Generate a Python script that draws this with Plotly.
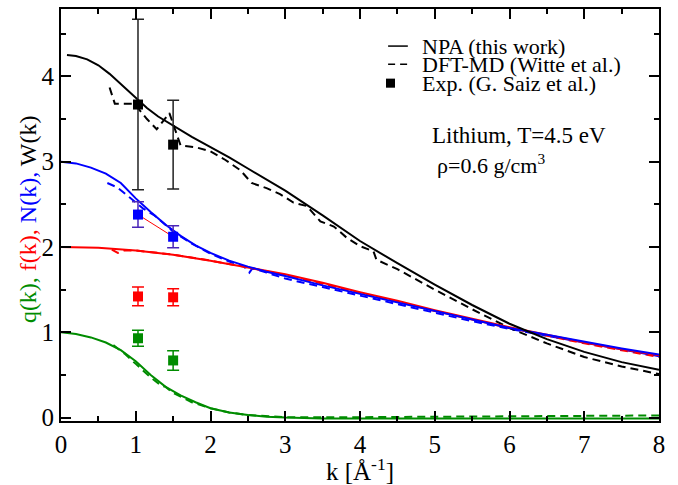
import plotly.graph_objects as go

# ---------------- data ----------------
# NPA (this work) curves
k_q_npa = [0, 0.2, 0.4, 0.6, 0.8, 1.0, 1.2, 1.4, 1.6, 1.8, 2.0, 2.25, 2.5, 2.75, 3.0,
           3.5, 4.0, 5.0, 6.0, 7.0, 8.0]
q_npa = [1.0, 0.98, 0.94, 0.88, 0.79, 0.66, 0.50, 0.36, 0.26, 0.18, 0.11, 0.06, 0.03, 0.01,
         0.0, -0.01, -0.01, -0.01, -0.01, -0.01, -0.01]
k_f_npa = [0, 0.5, 1.0, 1.5, 2.0, 2.5, 3.0, 3.5, 4.0, 4.5, 5.0, 5.5, 6.0, 6.5, 7.0, 7.5, 8.0]
f_npa = [2.0, 1.99, 1.96, 1.91, 1.84, 1.76, 1.68, 1.58, 1.47, 1.37, 1.26, 1.16, 1.06, 0.97,
         0.88, 0.80, 0.73]
k_N_npa = [0, 0.2, 0.4, 0.6, 0.8, 1.0, 1.2, 1.4, 1.6, 1.8, 2.0, 2.25, 2.5, 2.75, 3.0,
           3.5, 4.0, 4.5, 5.0, 5.5, 6.0, 6.5, 7.0, 7.5, 8.0]
N_npa = [3.0, 2.98, 2.93, 2.86, 2.75, 2.57, 2.41, 2.26, 2.13, 2.02, 1.93, 1.84, 1.77, 1.71,
         1.66, 1.55, 1.45, 1.35, 1.25, 1.15, 1.05, 0.97, 0.89, 0.81, 0.74]
k_W_npa = [0.08, 0.2, 0.35, 0.5, 0.65, 0.8, 0.9, 1.0, 1.15, 1.3, 1.5, 1.75, 2.0, 2.25, 2.5,
           2.75, 3.0, 3.5, 4.0, 4.5, 5.0, 5.5, 6.0, 6.5, 7.0, 7.5, 8.0]
W_npa = [4.25, 4.24, 4.20, 4.13, 4.03, 3.91, 3.83, 3.75, 3.63, 3.53, 3.42, 3.29, 3.17, 3.05,
         2.92, 2.79, 2.66, 2.37, 2.07, 1.81, 1.56, 1.32, 1.10, 0.92, 0.77, 0.65, 0.56]

# DFT-MD (Witte et al.) curves
k_q_dft = [0.7, 0.85, 1.0, 1.2, 1.35, 1.4, 1.5, 1.75, 2.0, 2.25, 2.5, 3.0, 4.0, 5.0, 6.0, 7.0, 8.0]
q_dft = [0.85, 0.75, 0.63, 0.47, 0.37, 0.36, 0.29, 0.18, 0.11, 0.06, 0.03, 0.005, 0.005,
         0.01, 0.015, 0.02, 0.025]
k_f_dft = [0.68, 0.76, 0.85, 1.0, 1.5, 2.0, 2.5, 3.0, 3.5, 4.0, 4.5, 5.0, 5.5, 6.0, 6.5, 7.0, 7.5, 8.0]
f_dft = [1.97, 1.93, 1.96, 1.96, 1.91, 1.84, 1.76, 1.67, 1.57, 1.46, 1.36, 1.25, 1.15, 1.05,
         0.96, 0.87, 0.79, 0.71]
k_N_dft = [0.62, 0.75, 0.92, 1.1, 1.25, 1.5, 1.75, 2.0, 2.25, 2.45, 2.52, 2.56, 2.75, 3.0,
           3.5, 4.0, 4.5, 5.0, 5.5, 6.0, 6.5, 7.0, 7.5, 8.0]
N_dft = [2.75, 2.70, 2.58, 2.45, 2.37, 2.18, 2.04, 1.92, 1.83, 1.77, 1.70, 1.75, 1.70, 1.63,
         1.53, 1.43, 1.33, 1.23, 1.13, 1.04, 0.96, 0.88, 0.80, 0.72]
k_W_dft = [0.65, 0.72, 0.98, 1.15, 1.28, 1.45, 1.6, 1.8, 2.0, 2.2, 2.4, 2.55, 2.75, 2.93,
           3.11, 3.29, 3.47, 3.65, 3.82, 4.0, 4.18, 4.22, 4.5, 5.0, 5.5, 6.0, 6.5, 7.0,
           7.5, 8.0]
W_dft = [3.87, 3.68, 3.68, 3.50, 3.38, 3.57, 3.19, 3.17, 3.12, 3.02, 2.90, 2.75, 2.69, 2.62,
         2.52, 2.48, 2.30, 2.24, 2.11, 2.01, 1.95, 1.85, 1.74, 1.50, 1.27, 1.05, 0.87, 0.71,
         0.60, 0.51]

# Experiment (G. Saiz et al.)
k_exp = [1.03, 1.5]
q_exp = [0.93, 0.67]
q_err = [0.095, 0.115]
f_exp = [1.42, 1.41]
f_err = [0.11, 0.10]
N_exp = [2.38, 2.12]
N_err = [0.15, 0.13]
W_exp = [3.67, 3.20]
W_err = [1.0, 0.52]

legend_labels = ["NPA (this work)", "DFT-MD (Witte et al.)", "Exp. (G. Saiz et al.)"]
x_ticks = [0, 1, 2, 3, 4, 5, 6, 7, 8]
y_ticks = [0, 1, 2, 3, 4]

# ---------------- style ----------------
GREEN = "#008c00"
RED = "#ff0000"
BLUE = "#0000ff"
BLACK = "#000000"
FONT = "Liberation Serif"
DASH = "8px,5px"

fig = go.Figure()

def line(x, y, color, dash=None, width=2):
    fig.add_trace(go.Scatter(x=x, y=y, mode="lines", showlegend=False,
                             line=dict(color=color, width=width, dash=dash or "solid")))

def exp(x, y, err, color, ecolor):
    fig.add_trace(go.Scatter(x=x, y=y, mode="markers", showlegend=False,
                             marker=dict(symbol="square", size=10, color=color),
                             error_y=dict(type="data", array=err, visible=True,
                                          color=ecolor, thickness=1.5, width=6)))

# DFT-MD dashed
line(k_q_dft, q_dft, GREEN, DASH)
line(k_f_dft, f_dft, RED, DASH)
line(k_N_dft, N_dft, BLUE, DASH)
line(k_W_dft, W_dft, BLACK, DASH)
# NPA solid
line(k_q_npa, q_npa, GREEN)
line(k_f_npa, f_npa, RED)
line(k_N_npa, N_npa, BLUE)
line(k_W_npa, W_npa, BLACK)
# thin red connector between N exp points
line(k_exp, N_exp, RED, width=1)
# experiment
exp(k_exp, q_exp, q_err, GREEN, GREEN)
exp(k_exp, f_exp, f_err, RED, RED)
exp(k_exp, N_exp, N_err, BLUE, "#4a25b8")
exp(k_exp, W_exp, W_err, BLACK, "#222222")

# ---------------- custom legend (paper coords) ----------------
ann = []
shapes = []
rows_y = [0.910, 0.866, 0.820]
for lab, yy in zip(legend_labels, rows_y):
    ann.append(dict(xref="paper", yref="paper", x=0.600, y=yy, xanchor="left",
                    yanchor="middle", showarrow=False, text=lab,
                    font=dict(family=FONT, size=22, color=BLACK)))
shapes.append(dict(type="line", xref="paper", yref="paper", x0=0.547, x1=0.580,
                   y0=rows_y[0], y1=rows_y[0], line=dict(color=BLACK, width=1.5)))
shapes.append(dict(type="line", xref="paper", yref="paper", x0=0.547, x1=0.580,
                   y0=rows_y[1], y1=rows_y[1], line=dict(color=BLACK, width=1.5, dash="7px,5px")))
shapes.append(dict(type="rect", xref="paper", yref="paper", x0=0.5435, x1=0.5585,
                   y0=rows_y[2] - 0.011, y1=rows_y[2] + 0.011, line=dict(width=0),
                   fillcolor=BLACK))

ann.append(dict(xref="paper", yref="paper", x=0.617, y=0.694, xanchor="left",
                yanchor="middle", showarrow=False, text="Lithium, T=4.5 eV",
                font=dict(family=FONT, size=23, color=BLACK)))
ann.append(dict(xref="paper", yref="paper", x=0.625, y=0.625, xanchor="left",
                yanchor="middle", showarrow=False, text="ρ=0.6 g/cm<sup>3</sup>",
                font=dict(family=FONT, size=22, color=BLACK)))

# y-axis title (multi-coloured), placed as a rotated annotation
ytitle = (f'<span style="color:{GREEN}">q(k),</span> '
          f'<span style="color:{RED}">f(k),</span> '
          f'<span style="color:{BLUE}">N(k),</span> '
          f'<span style="color:{BLACK}">W(k)</span>')
ann.append(dict(xref="paper", yref="paper", x=0, y=0.49, xshift=-33,
                xanchor="center", yanchor="middle", textangle=-90, showarrow=False,
                text=ytitle, font=dict(family=FONT, size=24, color=BLACK)))

axis_common = dict(showline=True, linecolor=BLACK, linewidth=2, mirror="ticks",
                   ticks="inside", ticklen=10, tickwidth=1.5, tickcolor=BLACK,
                   showgrid=False, zeroline=False,
                   tickfont=dict(family=FONT, size=25, color=BLACK),
                   minor=dict(ticks="inside", ticklen=5, tickwidth=1.5, tickcolor=BLACK,
                              dtick=0.5, showgrid=False))

fig.update_layout(
    width=678, height=485,
    margin=dict(l=61, r=19, t=9, b=64),
    paper_bgcolor="white", plot_bgcolor="white",
    font=dict(family=FONT, color=BLACK),
    showlegend=False,
    xaxis=dict(range=[0, 8], tickvals=x_ticks, automargin=False, **axis_common,
               title=dict(text="k [Å<sup>-1</sup>]", font=dict(family=FONT, size=25),
                          standoff=4)),
    yaxis=dict(range=[-0.04, 4.79], tickvals=y_ticks, automargin=False, **axis_common),
    annotations=ann,
    shapes=shapes,
)

fig.write_html("out.html", config={"displayModeBar": False},
               post_script="document.body.style.margin='0';document.body.style.padding='0';")
